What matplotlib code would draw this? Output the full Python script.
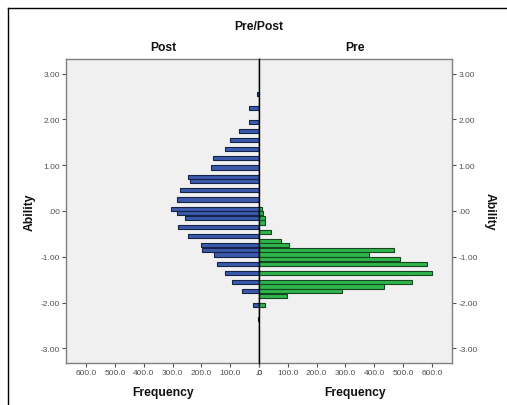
import matplotlib
matplotlib.use("Agg")
import matplotlib.pyplot as plt
from matplotlib.lines import Line2D
from matplotlib.ticker import FuncFormatter

plt.rcParams["font.family"] = ["Liberation Sans", "DejaVu Sans"]

post_ability = [2.55, 2.25, 1.95, 1.75, 1.55, 1.35, 1.15, 0.95, 0.75, 0.65,
                0.45, 0.25, 0.05, -0.05, -0.15, -0.35, -0.55, -0.75, -0.85,
                -0.95, -1.15, -1.35, -1.55, -1.75, -2.05, -2.35]
post_freq = [8, 34, 36, 70, 102, 118, 160, 167, 246, 239,
             274, 283, 304, 283, 258, 281, 246, 200, 197,
             156, 145, 117, 95, 59, 21, 3]

pre_ability = [0.05, -0.05, -0.15, -0.25, -0.45, -0.65, -0.75, -0.85, -0.95,
               -1.05, -1.15, -1.35, -1.55, -1.65, -1.75, -1.85, -2.05]
pre_freq = [11, 15, 22, 20, 40, 76, 105, 468, 381,
            491, 584, 602, 532, 434, 288, 96, 21]

freq_ticks = [0, 100, 200, 300, 400, 500, 600]
ability_ticks = [-3, -2, -1, 0, 1, 2, 3]

W, H = 507, 406
fig = plt.figure(figsize=(W / 100, H / 100), dpi=100)
fig.patch.set_facecolor("white")

def fx(px):
    return px / W

def fy(py):
    return 1 - py / H

left_px, mid_px, right_px = 66, 259, 452
top_px, bot_px = 60, 364
ax_post = fig.add_axes([fx(left_px), fy(bot_px), fx(mid_px - left_px), (bot_px - top_px) / H])
ax_pre = fig.add_axes([fx(mid_px), fy(bot_px), fx(right_px - mid_px), (bot_px - top_px) / H])

grey = "#808080"
tick_col = "#505050"


def freq_fmt(v, _):
    return ".0" if v == 0 else f"{v:.1f}"


def abil_fmt(v, _):
    if v == 0:
        return ".00"
    return f"{v:.2f}"


for ax in (ax_post, ax_pre):
    ax.set_facecolor("#f0f0f0")
    ax.set_ylim(-3.32, 3.32)
    ax.set_yticks(ability_ticks)
    ax.yaxis.set_major_formatter(FuncFormatter(abil_fmt))
    ax.set_xticks(freq_ticks)
    ax.xaxis.set_major_formatter(FuncFormatter(freq_fmt))
    ax.tick_params(axis="both", labelsize=6, colors=tick_col, length=3,
                   width=0.8, pad=1.5)
    for s in ax.spines.values():
        s.set_color(grey)
        s.set_linewidth(1.0)

ax_post.barh(post_ability, post_freq, height=0.09, color="#3b5aaa",
             edgecolor="#15224a", linewidth=0.8, zorder=3)
ax_post.set_xlim(670, 0)
ax_post.spines["right"].set_color("black")
ax_post.spines["right"].set_zorder(5)

ax_pre.barh(pre_ability, pre_freq, height=0.09, color="#2fb54b",
            edgecolor="#14461f", linewidth=0.8, zorder=3)
ax_pre.set_xlim(0, 670)
ax_pre.spines["left"].set_color("black")
ax_pre.spines["left"].set_zorder(5)
ax_pre.yaxis.tick_right()
ax_pre.tick_params(axis="y", which="both", left=False)
ax_post.tick_params(axis="y", right=False)

# headings and axis titles
bold = dict(fontsize=8.7, fontweight="bold", color="#111111", ha="center", va="center")
fig.text(fx(259), fy(27), "Pre/Post", **bold)
fig.text(fx(163), fy(48), "Post", **bold)
fig.text(fx(355), fy(48), "Pre", **bold)
fig.text(fx(163), fy(393), "Frequency", **bold)
fig.text(fx(355), fy(393), "Frequency", **bold)
fig.text(fx(30), fy(212), "Ability", rotation=90, **bold)
fig.text(fx(490), fy(212), "Ability", rotation=-90, **bold)

# outer frame (top and left edges visible in the crop)
fig.add_artist(Line2D([fx(8), 1.0], [fy(9), fy(9)], color="black", lw=1.0))
fig.add_artist(Line2D([fx(8), fx(8)], [fy(9), 0.0], color="black", lw=1.0))

fig.savefig("out.png", dpi=100)
